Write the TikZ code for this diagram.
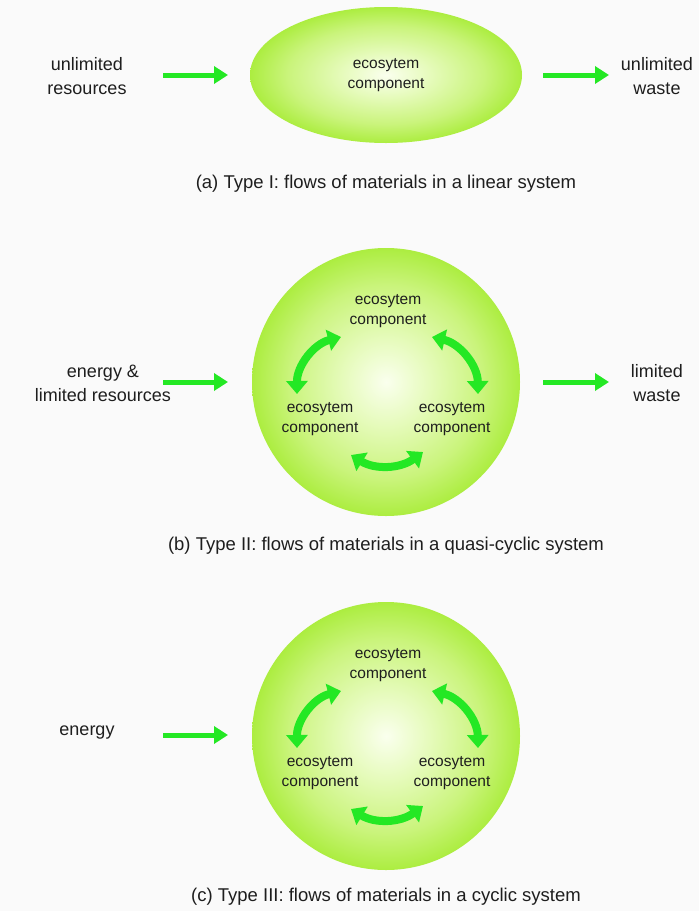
\documentclass[tikz,border=0pt]{standalone}
\usepackage{fontspec}
\setmainfont{Liberation Sans}
\usetikzlibrary{arrows.meta}

\definecolor{pagebg}{RGB}{250,250,250}
\definecolor{flow}{RGB}{36,232,36}
\definecolor{ink}{RGB}{30,30,30}
\definecolor{gcore}{RGB}{250,255,238}
\definecolor{gin}{RGB}{230,251,188}
\definecolor{gmid}{RGB}{202,244,124}
\definecolor{gout}{RGB}{172,237,64}

% soft lime glow used for the ecosystem bodies
\pgfdeclareradialshading{glow}{\pgfpoint{0bp}{0bp}}{%
  color(0bp)=(gcore); color(8bp)=(gin); color(18bp)=(gmid);
  color(25bp)=(gout); color(50bp)=(gout)}

\tikzset{
  body/.style={shading=glow},
  comp/.style={align=center, text=ink, font=\fontsize{15.5}{20}\selectfont, inner sep=0pt},
  side/.style={align=center, text=ink, font=\fontsize{18}{24}\selectfont, inner sep=0pt},
  caption/.style={text=ink, font=\fontsize{18.5}{20}\selectfont, inner sep=0pt},
  flowarrow/.style={draw=flow, line width=5pt, -{Triangle[length=14pt,width=17pt]}},
  cycle/.style={draw=flow, line width=8pt,
    {Triangle[length=13pt,width=21pt]}-{Triangle[length=13pt,width=21pt]}},
}

\begin{document}
\begin{tikzpicture}[x=1pt,y=-1pt]
\fill[pagebg] (0,0) rectangle (699,911);
\useasboundingbox (0,0) rectangle (699,911);

% ---------- (a) linear system ----------
\shade[body] (386,75) ellipse [x radius=136, y radius=68];
\node[comp] (a-comp) at (386,75) {ecosytem\\component};
\node[side] (a-in) at (87,76) {unlimited\\resources};
\node[side] (a-out) at (657,76) {unlimited\\waste};
\coordinate (a-in-s) at (163,75);
\coordinate (a-in-e) at (228,75);
\coordinate (a-out-s) at (543,75);
\coordinate (a-out-e) at (609,75);
\draw[flowarrow] (a-in-s) -- (a-in-e);
\draw[flowarrow] (a-out-s) -- (a-out-e);
\node[caption] (a-cap) at (386,184) {(a) Type I: flows of materials in a linear system};

% ---------- (b) quasi-cyclic system ----------
\shade[body] (386,382) circle [radius=134];
\node[comp] (b-top) at (388,311) {ecosytem\\component};
\node[comp] (b-left) at (320,419) {ecosytem\\component};
\node[comp] (b-right) at (452,419) {ecosytem\\component};
\coordinate (b-l1) at (341,337);
\coordinate (b-l2) at (297,394);
\coordinate (b-r1) at (432,337);
\coordinate (b-r2) at (478,394);
\coordinate (b-b1) at (351,455);
\coordinate (b-b2) at (423,452);
\draw[cycle] (b-l1) to[bend right=38] (b-l2);
\draw[cycle] (b-r1) to[bend left=38] (b-r2);
\draw[cycle] (b-b1) to[bend right=34] (b-b2);
\node[side] (b-in) at (103,383) {energy \&\\limited resources};
\node[side] (b-out) at (657,383) {limited\\waste};
\coordinate (b-in-s) at (163,382);
\coordinate (b-in-e) at (228,382);
\coordinate (b-out-s) at (543,382);
\coordinate (b-out-e) at (609,382);
\draw[flowarrow] (b-in-s) -- (b-in-e);
\draw[flowarrow] (b-out-s) -- (b-out-e);
\node[caption] (b-cap) at (386,546) {(b) Type II: flows of materials in a quasi-cyclic system};

% ---------- (c) cyclic system ----------
\shade[body] (386,736) circle [radius=134];
\node[comp] (c-top) at (388,665) {ecosytem\\component};
\node[comp] (c-left) at (320,773) {ecosytem\\component};
\node[comp] (c-right) at (452,773) {ecosytem\\component};
\coordinate (c-l1) at (341,691);
\coordinate (c-l2) at (297,748);
\coordinate (c-r1) at (432,691);
\coordinate (c-r2) at (478,748);
\coordinate (c-b1) at (351,809);
\coordinate (c-b2) at (423,806);
\draw[cycle] (c-l1) to[bend right=38] (c-l2);
\draw[cycle] (c-r1) to[bend left=38] (c-r2);
\draw[cycle] (c-b1) to[bend right=34] (c-b2);
\node[side] (c-in) at (87,733) {energy};
\coordinate (c-in-s) at (163,735);
\coordinate (c-in-e) at (228,735);
\draw[flowarrow] (c-in-s) -- (c-in-e);
\node[caption] (c-cap) at (386,897) {(c) Type III: flows of materials in a cyclic system};
\end{tikzpicture}
\end{document}
